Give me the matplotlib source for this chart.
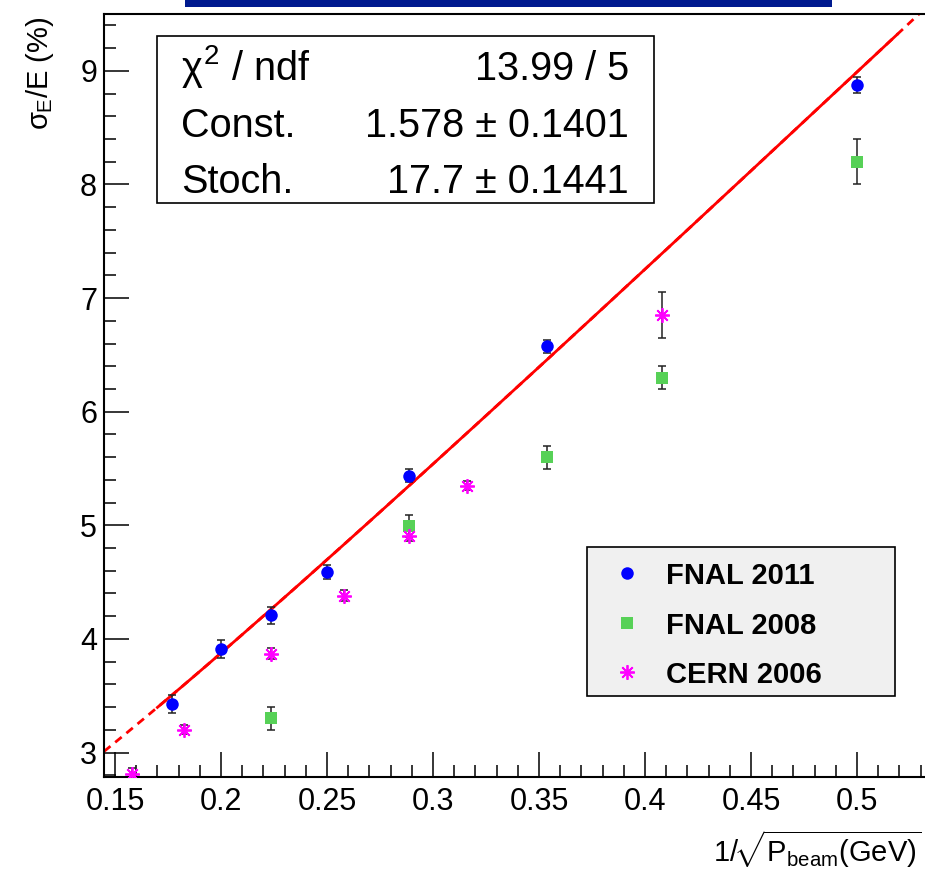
import numpy as np
import matplotlib
matplotlib.use("Agg")
import matplotlib.pyplot as plt
from matplotlib.patches import Rectangle
from matplotlib.ticker import MultipleLocator
from matplotlib.lines import Line2D

plt.rcParams['font.family'] = ['Liberation Sans', 'DejaVu Sans']
plt.rcParams['mathtext.fontset'] = 'custom'
plt.rcParams['mathtext.rm'] = 'Liberation Sans'
plt.rcParams['mathtext.it'] = 'Liberation Sans'
plt.rcParams['mathtext.bf'] = 'Liberation Sans:bold'

# Beam momenta (GeV) and measured resolution (%) per test beam campaign
p_fnal11 = np.array([32, 25, 20, 16, 12, 8, 4])
res_fnal11 = np.array([3.425, 3.91, 4.21, 4.59, 5.435, 6.575, 8.875])
err_fnal11 = np.array([0.08, 0.08, 0.075, 0.06, 0.057, 0.056, 0.068])

p_fnal08 = np.array([20, 12, 8, 6, 4])
res_fnal08 = np.array([3.30, 4.995, 5.60, 6.30, 8.20])
err_fnal08 = np.array([0.10, 0.10, 0.10, 0.10, 0.20])

p_cern06 = np.array([40, 30, 20, 15, 12, 10, 6])
res_cern06 = np.array([2.81, 3.20, 3.87, 4.38, 4.91, 5.35, 6.85])
err_cern06 = np.array([0.05, 0.04, 0.05, 0.05, 0.05, 0.04, 0.20])

labels = ["FNAL 2011", "FNAL 2008", "CERN 2006"]

# fit result: sigma/E = Const (+) Stoch/sqrt(P)
fit_const = 1.578
fit_const_err = 0.1401
fit_stoch = 17.7
fit_stoch_err = 0.1441
fit_chi2 = 13.99
fit_ndf = 5
fit_range = (0.17, 0.519)

W, H = 925, 871
fig = plt.figure(figsize=(W / 100, H / 100), dpi=100)
ax = fig.add_axes([104 / W, (H - 777) / H, (935 - 104) / W, (777 - 14) / H])

ax.set_xlim(0.15 - 11 / 2120, 0.5 + 78 / 2120)
ax.set_ylim(2.785, 9.5)

def fit_func(x):
    return np.sqrt(fit_const ** 2 + (fit_stoch * x) ** 2)

xfull = np.linspace(ax.get_xlim()[0], ax.get_xlim()[1], 400)
ax.plot(xfull, fit_func(xfull), color='red', lw=2.0, ls=(0, (3, 2.2)), zorder=2)
xfit = np.linspace(fit_range[0], fit_range[1], 400)
ax.plot(xfit, fit_func(xfit), color='red', lw=2.0, zorder=3)

styles = [
    dict(marker='o', color='#0000ff', ms=9, mew=0),
    dict(marker='s', color='#57d157', ms=8.3, mew=0),
    dict(marker=(8, 2, 0), color='#ff00ff', ms=10.5, mew=1.3),
]
series = [(p_fnal11, res_fnal11, err_fnal11),
          (p_fnal08, res_fnal08, err_fnal08),
          (p_cern06, res_cern06, err_cern06)]

for (p, r, e), st in zip(series, styles):
    x = 1 / np.sqrt(p)
    ax.errorbar(x, r, yerr=e, fmt='none', ecolor='#222222', elinewidth=1.1,
                capsize=2.8, capthick=1.1, zorder=4)
    ax.plot(x, r, ls='none', marker=st['marker'], color=st['color'],
            markersize=st['ms'], markeredgewidth=st['mew'],
            markeredgecolor=st['color'], zorder=5)

# axes styling
ax.xaxis.set_major_locator(MultipleLocator(0.05))
ax.xaxis.set_minor_locator(MultipleLocator(0.01))
ax.yaxis.set_major_locator(MultipleLocator(1))
ax.yaxis.set_minor_locator(MultipleLocator(0.2))
ax.set_xticks([0.15, 0.2, 0.25, 0.3, 0.35, 0.4, 0.45, 0.5])
ax.set_xticklabels(['0.15', '0.2', '0.25', '0.3', '0.35', '0.4', '0.45', '0.5'])
ax.set_yticks([3, 4, 5, 6, 7, 8, 9])
ax.tick_params(which='both', direction='in', width=1.1, labelsize=22)
ax.tick_params(which='major', length=18)
ax.tick_params(which='minor', length=8.5)
ax.tick_params(axis='x', pad=7)
ax.tick_params(axis='y', pad=5)
for s in ['top', 'left', 'bottom']:
    ax.spines[s].set_linewidth(1.5)
ax.spines['right'].set_visible(False)

fig.text(40 / W, 1 - 16 / H, r'$\sigma_{E}$/E (%)', rotation=90, ha='center',
         va='top', fontsize=21)
fig.text(922 / W, (H - 862) / H, r'$1/\!\sqrt{\mathrm{P}_{\mathrm{beam}}\mathrm{(GeV)}}$',
         ha='right', va='baseline', fontsize=21)

# fit statistics box
fig.patches.append(Rectangle((157 / W, 1 - 203 / H), (654 - 157) / W, (203 - 36) / H,
                             transform=fig.transFigure, facecolor='white',
                             edgecolor='black', lw=1.2, zorder=10))
stat_rows = [
    (r'$\chi^2$ / ndf', f'{fit_chi2:g} / {fit_ndf}', 80),
    ('Const.', f'{fit_const:g} ± {fit_const_err:g}', 137),
    ('Stoch.', f'{fit_stoch:g} ± {fit_stoch_err:g}', 193),
]
for name, val, yb in stat_rows:
    fig.text(181 / W, 1 - yb / H, name, ha='left', va='baseline', fontsize=28.5, zorder=11)
    fig.text(629 / W, 1 - yb / H, val, ha='right', va='baseline', fontsize=28.5, zorder=11)

# legend
fig.patches.append(Rectangle((587 / W, 1 - 696 / H), (895 - 587) / W, (696 - 547) / H,
                             transform=fig.transFigure, facecolor='#f0f0f0',
                             edgecolor='black', lw=1.2, zorder=10))
for i, (lab, st) in enumerate(zip(labels, styles)):
    yc = 1 - (573 + 49.5 * i) / H
    fig.add_artist(Line2D([627 / W], [yc], transform=fig.transFigure, ls='none',
                          marker=st['marker'], color=st['color'], markersize=st['ms'],
                          markeredgewidth=st['mew'], markeredgecolor=st['color'], zorder=11))
    fig.text(666 / W, yc, lab, ha='left', va='center_baseline', fontsize=21,
             fontweight='bold', zorder=11)

# title banner
fig.patches.append(Rectangle((185 / W, 1 - 7 / H), (832 - 185) / W, 7 / H,
                             transform=fig.transFigure, facecolor='#001a8f',
                             edgecolor='none', zorder=10))

fig.savefig('out.png', dpi=100)
